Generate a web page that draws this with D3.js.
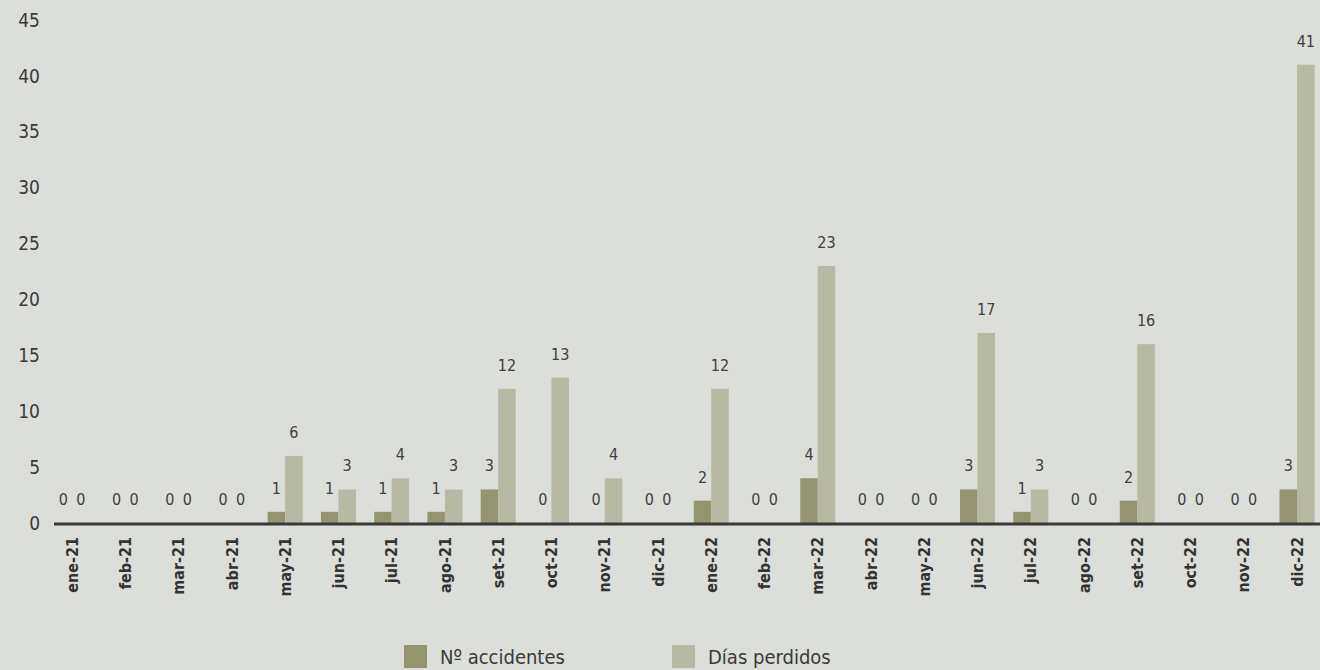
<!DOCTYPE html>
<html>
<head>
<meta charset="utf-8">
<script src="https://cdn.jsdelivr.net/npm/d3@7"></script>
<style>
  html, body { margin: 0; padding: 0; background: #dcded9; }
  svg { display: block; font-family: "DejaVu Sans Condensed", "DejaVu Sans", sans-serif; }
</style>
</head>
<body>
<svg id="chart" width="1320" height="670"></svg>
<script>
// months shown on the x axis
var meses = ["ene-21", "feb-21", "mar-21", "abr-21", "may-21", "jun-21", "jul-21", "ago-21",
             "set-21", "oct-21", "nov-21", "dic-21", "ene-22", "feb-22", "mar-22", "abr-22",
             "may-22", "jun-22", "jul-22", "ago-22", "set-22", "oct-22", "nov-22", "dic-22"];

// Nº accidentes
var accidentes = [0, 0, 0, 0, 1, 1, 1, 1, 3, 0, 0, 0, 2, 0, 4, 0, 0, 3, 1, 0, 2, 0, 0, 3];

// Días perdidos
var diasPerdidos = [0, 0, 0, 0, 6, 3, 4, 3, 12, 13, 4, 0, 12, 0, 23, 0, 0, 17, 3, 0, 16, 0, 0, 41];

var yTicks = [0, 5, 10, 15, 20, 25, 30, 35, 40, 45];

var series = [
    { name: "Nº accidentes", values: accidentes, color: "#959470" },
    { name: "Días perdidos", values: diasPerdidos, color: "#b8b9a4" }
];

var svg = d3.select("#chart");

var x = d3.scaleBand()
    .domain(meses)
    .range([45.5, 1323.7]);

var y = d3.scaleLinear()
    .domain([0, 45])
    .range([523, 20]);

var barW = 17.5;

// y axis labels (no line)
svg.append("g")
    .selectAll("text")
    .data(yTicks)
    .enter().append("text")
    .attr("x", 40)
    .attr("y", function (d) { return y(d); })
    .attr("dy", "0.35em")
    .attr("text-anchor", "end")
    .style("font-size", "19px")
    .style("fill", "#3a3a3a")
    .text(function (d) { return d; });

// bars, one group per series
series.forEach(function (s, k) {
    var g = svg.append("g");

    g.selectAll("rect")
        .data(s.values)
        .enter().append("rect")
        .attr("x", function (d, i) { return x(meses[i]) + x.bandwidth() / 2 - barW + k * barW; })
        .attr("y", function (d) { return y(d); })
        .attr("width", barW)
        .attr("height", function (d) { return y(0) - y(d); })
        .style("fill", s.color);

    g.selectAll("text")
        .data(s.values)
        .enter().append("text")
        .attr("x", function (d, i) { return x(meses[i]) + x.bandwidth() / 2 - barW / 2 + k * barW; })
        .attr("y", function (d) { return y(d) - 18; })
        .attr("text-anchor", "middle")
        .style("font-size", "16px")
        .style("fill", "#404040")
        .text(function (d) { return d; });
});

// baseline
svg.append("line")
    .attr("x1", 54)
    .attr("x2", 1320)
    .attr("y1", y(0) + 1)
    .attr("y2", y(0) + 1)
    .style("stroke", "#3a3a38")
    .style("stroke-width", 3);

// x axis labels, rotated
svg.append("g")
    .selectAll("text")
    .data(meses)
    .enter().append("text")
    .attr("transform", function (d) {
        return "translate(" + (x(d) + x.bandwidth() / 2) + ",537) rotate(-90)";
    })
    .attr("dy", "0.35em")
    .attr("text-anchor", "end")
    .style("font-size", "16px")
    .style("font-weight", "bold")
    .style("fill", "#333")
    .text(function (d) { return d; });

// legend
var legendX = [404, 672];
var legend = svg.append("g")
    .selectAll("g")
    .data(series)
    .enter().append("g")
    .attr("transform", function (d, i) { return "translate(" + legendX[i] + ",645)"; });

legend.append("rect")
    .attr("width", 23)
    .attr("height", 23)
    .style("fill", function (d) { return d.color; });

legend.append("text")
    .attr("x", 36)
    .attr("y", 19)
    .style("font-size", "20px")
    .style("fill", "#3a3a3a")
    .text(function (d) { return d.name; });
</script>
</body>
</html>
